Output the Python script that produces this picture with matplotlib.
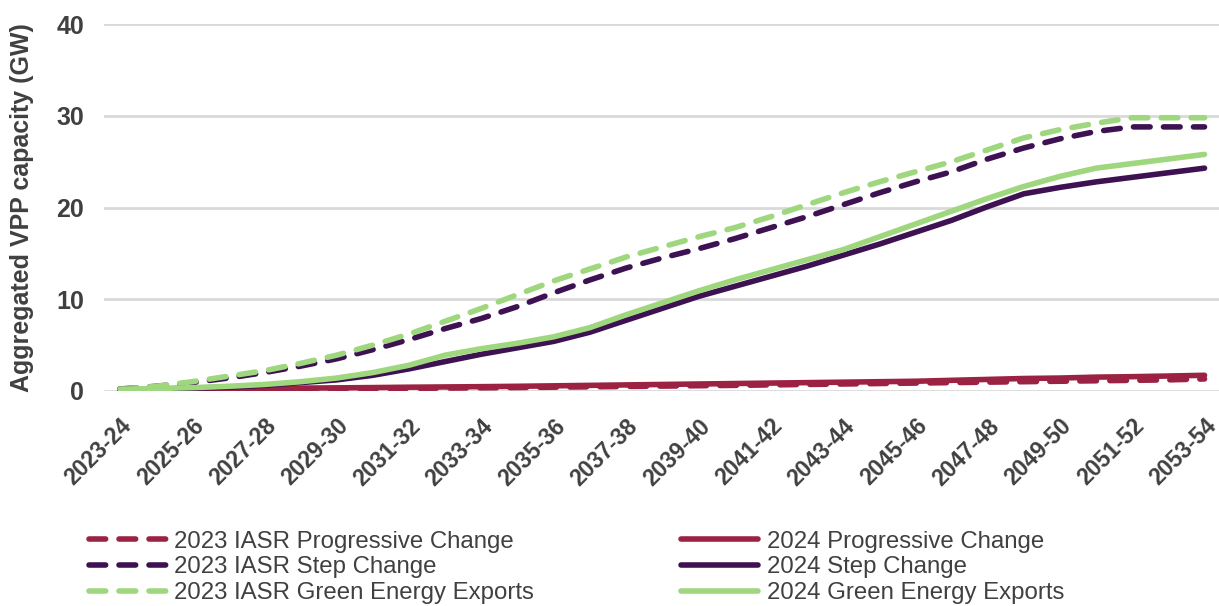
import matplotlib
matplotlib.use("Agg")
import matplotlib.pyplot as plt

years = [f"{y}-{str(y+1)[-2:]}" for y in range(2023, 2054)]

pc_2023 = [0.1, 0.1, 0.12, 0.15, 0.18, 0.2, 0.22, 0.25, 0.28, 0.3, 0.33, 0.36, 0.4, 0.44, 0.48,
           0.52, 0.56, 0.6, 0.65, 0.7, 0.75, 0.8, 0.85, 0.9, 0.95, 1.0, 1.05, 1.1, 1.15, 1.2, 1.3]
sc_2023 = [0.2, 0.5, 0.9, 1.4, 2.0, 2.7, 3.5, 4.5, 5.6, 6.8, 7.9, 9.2, 10.7, 12.1, 13.4,
           14.5, 15.5, 16.6, 17.8, 19.0, 20.3, 21.6, 22.8, 23.9, 25.3, 26.5, 27.5, 28.3, 28.8, 28.8, 28.8]
gee_2023 = [0.2, 0.5, 1.0, 1.6, 2.2, 3.0, 3.9, 5.0, 6.2, 7.6, 9.0, 10.5, 12.0, 13.3, 14.6,
            15.7, 16.8, 17.8, 19.0, 20.3, 21.6, 22.8, 23.9, 25.0, 26.3, 27.6, 28.5, 29.2, 29.8, 29.8, 29.8]
pc_2024 = [0.1, 0.12, 0.15, 0.2, 0.25, 0.3, 0.33, 0.36, 0.4, 0.43, 0.46, 0.5, 0.55, 0.6, 0.65,
           0.7, 0.75, 0.8, 0.85, 0.9, 0.95, 1.0, 1.05, 1.15, 1.25, 1.35, 1.4, 1.5, 1.55, 1.62, 1.7]
sc_2024 = [0.2, 0.2, 0.3, 0.4, 0.6, 0.9, 1.2, 1.7, 2.4, 3.2, 4.0, 4.7, 5.4, 6.4, 7.7,
           9.0, 10.3, 11.4, 12.5, 13.6, 14.8, 16.0, 17.3, 18.6, 20.1, 21.5, 22.2, 22.8, 23.3, 23.8, 24.3]
gee_2024 = [0.2, 0.25, 0.35, 0.5, 0.7, 1.0, 1.4, 2.0, 2.8, 3.9, 4.6, 5.2, 5.9, 6.9, 8.3,
            9.6, 10.9, 12.1, 13.2, 14.3, 15.4, 16.8, 18.2, 19.6, 21.0, 22.3, 23.4, 24.3, 24.8, 25.3, 25.8]

RED = "#9B2242"
PURPLE = "#3D1152"
GREEN = "#9ED77E"
TXT = "#404040"

plt.rcParams['font.family'] = ['Liberation Sans', 'DejaVu Sans']

fig = plt.figure(figsize=(12.19, 6.06), dpi=100)
ax = fig.add_axes([0.085, 0.355, 0.915, 0.605])

x = list(range(len(years)))
lw = 4
dash = (0, (3.0, 2.4))
common = dict(lw=lw, dash_capstyle='round', solid_capstyle='round', solid_joinstyle='round')
ax.plot(x, pc_2023, color=RED, ls=dash, label="2023 IASR Progressive Change", zorder=3, **common)
ax.plot(x, sc_2023, color=PURPLE, ls=dash, label="2023 IASR Step Change", zorder=3, **common)
ax.plot(x, gee_2023, color=GREEN, ls=dash, label="2023 IASR Green Energy Exports", zorder=3, **common)
ax.plot(x, pc_2024, color=RED, label="2024 Progressive Change", zorder=4, **common)
ax.plot(x, sc_2024, color=PURPLE, label="2024 Step Change", zorder=4, **common)
ax.plot(x, gee_2024, color=GREEN, label="2024 Green Energy Exports", zorder=4, **common)

ax.set_ylim(0, 40)
ax.set_yticks([0, 10, 20, 30, 40])
ax.set_xlim(-0.45, 30.4)
ax.set_xticks(x[::2])
ax.set_xticklabels(years[::2], rotation=45, ha='right', va='top', rotation_mode='anchor',
                   fontsize=16.5, fontweight='bold', color=TXT)
for lab in ax.get_yticklabels():
    lab.set_fontsize(18)
    lab.set_fontweight('bold')
    lab.set_color(TXT)
ax.tick_params(axis='y', length=0, pad=14)
ax.tick_params(axis='x', length=0, pad=17)
ax.grid(axis='y', color='#d9d9d9', lw=2)
ax.set_axisbelow(True)
for s in ax.spines.values():
    s.set_visible(False)
ax.set_ylabel("Aggregated VPP capacity (GW)", fontsize=18, fontweight='bold', color=TXT, labelpad=16)

leg = fig.legend(loc='lower left', bbox_to_anchor=(0.0633, -0.017), ncol=2, frameon=False,
                 fontsize=17.3, handlelength=3.2, handletextpad=0.35, columnspacing=6.12,
                 labelspacing=0.16, borderpad=0.0, labelcolor=TXT)

fig.savefig("out.png", dpi=100)
